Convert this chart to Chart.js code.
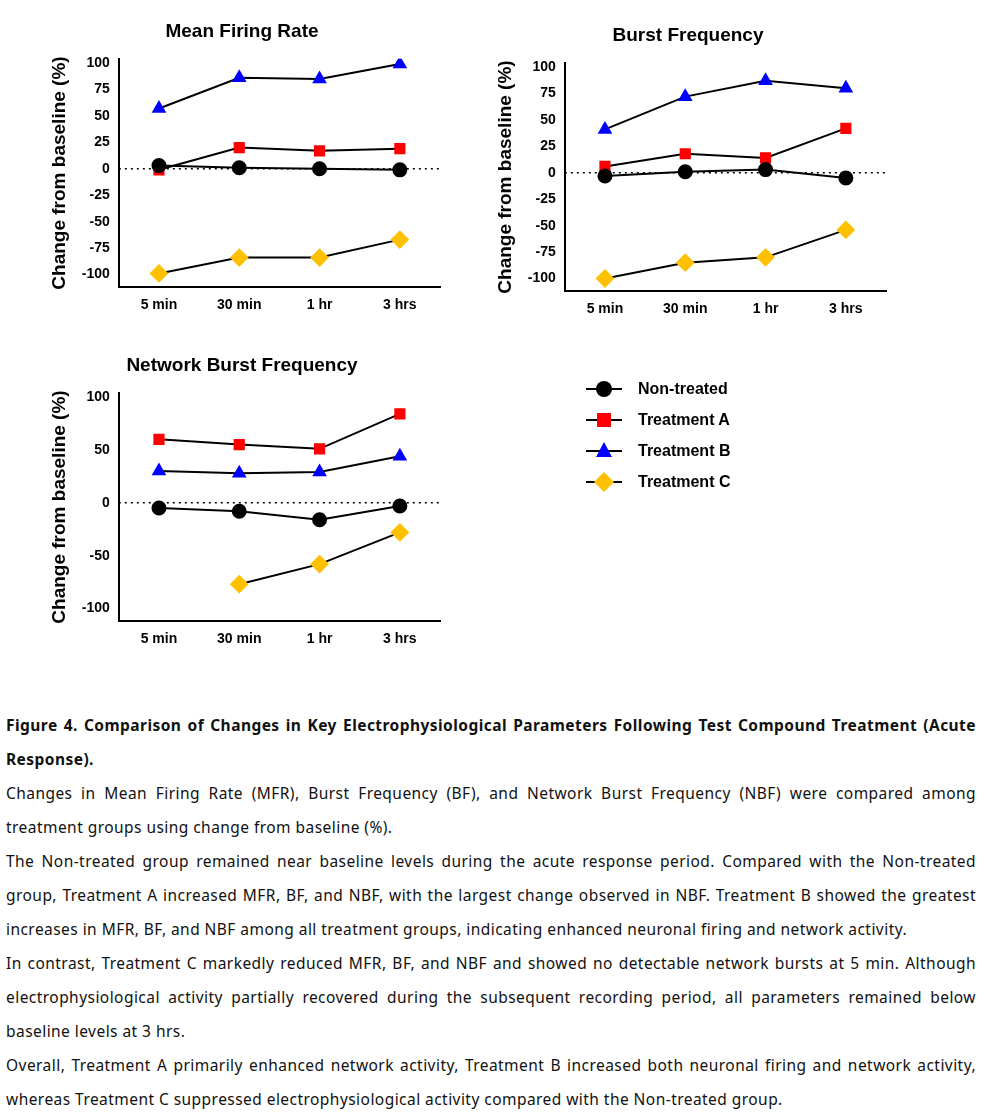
<!DOCTYPE html>
<html><head><meta charset="utf-8">
<script src="https://cdn.jsdelivr.net/npm/chart.js@4"></script>
<style>
body{margin:0;width:992px;height:1117px;background:#fff;position:relative;font-family:"Noto Sans",sans-serif}
.c{position:absolute}
#legend{position:absolute;left:584px;top:373px;font:bold 16px "Liberation Sans",Arial;color:#000}
#legend div{height:31px;display:flex;align-items:center}
#legend canvas{margin-right:14px}
#cap{position:absolute;left:6px;top:708px;width:970px;font-size:15.5px;letter-spacing:0.45px;line-height:34px;color:#111;text-align:justify}
#cap p{margin:0}
</style></head><body>
<div class="c" style="left:40px;top:18px;width:410px;height:300px"><canvas id="c1"></canvas></div>
<div class="c" style="left:486px;top:22px;width:410px;height:300px"><canvas id="c2"></canvas></div>
<div class="c" style="left:40px;top:352px;width:410px;height:300px"><canvas id="c3"></canvas></div>
<div id="legend"></div>
<div id="cap">
<p><b>Figure 4. Comparison of Changes in Key Electrophysiological Parameters Following Test Compound Treatment (Acute Response).</b></p>
<p>Changes in Mean Firing Rate (MFR), Burst Frequency (BF), and Network Burst Frequency (NBF) were compared among treatment groups using change from baseline (%).</p>
<p>The Non-treated group remained near baseline levels during the acute response period. Compared with the Non-treated group, Treatment A increased MFR, BF, and NBF, with the largest change observed in NBF. Treatment B showed the greatest increases in MFR, BF, and NBF among all treatment groups, indicating enhanced neuronal firing and network activity.</p>
<p>In contrast, Treatment C markedly reduced MFR, BF, and NBF and showed no detectable network bursts at 5 min. Although electrophysiological activity partially recovered during the subsequent recording period, all parameters remained below baseline levels at 3 hrs.</p>
<p>Overall, Treatment A primarily enhanced network activity, Treatment B increased both neuronal firing and network activity, whereas Treatment C suppressed electrophysiological activity compared with the Non-treated group.</p>
</div>
<script>
const categories=["5 min","30 min","1 hr","3 hrs"];
const seriesNames=["Non-treated","Treatment A","Treatment B","Treatment C"];
const mfrNT=[3,1,0,-1], mfrA=[-1,20,17,19], mfrB=[57,86,85,99], mfrC=[-99,-84,-84,-67];
const bfNT=[-3,1,3,-5], bfA=[6,18,14,42], bfB=[41,72,87,80], bfC=[-100,-85,-80,-54];
const nbfNT=[-5,-8,-16,-3], nbfA=[60,55,51,84], nbfB=[30,28,29,44], nbfC=[null,-77,-58,-28];
const styles=[{c:'#000',p:'circle'},{c:'#ff0000',p:'rect'},{c:'#0000ff',p:'triangle'},{c:'#ffc000',p:'rectRot'}];
const F='"Liberation Sans",Arial,sans-serif';
const zeroLine={id:'z',beforeDatasetsDraw(ch){const {ctx,chartArea:a,scales:{y}}=ch;const yy=y.getPixelForValue(0);ctx.save();ctx.setLineDash([2,4]);ctx.strokeStyle='#000';ctx.lineWidth=1.5;ctx.beginPath();ctx.moveTo(a.left,yy);ctx.lineTo(a.right,yy);ctx.stroke();ctx.restore();}};
function mk(id,title,data,step){
 new Chart(document.getElementById(id),{type:'line',
 data:{labels:categories,datasets:data.map((d,i)=>({label:seriesNames[i],data:d,borderColor:'#000',borderWidth:2,pointStyle:styles[i].p,pointBackgroundColor:styles[i].c,pointBorderColor:styles[i].c,pointRadius:styles[i].p==='rectRot'?8:6.5,spanGaps:false}))},
 options:{responsive:true,maintainAspectRatio:false,animation:false,
 layout:{padding:{right:10,left:4}},
 plugins:{legend:{display:false},tooltip:{enabled:false},title:{display:true,text:title,color:'#000',font:{family:F,size:19,weight:'bold'},padding:{top:2,bottom:16}}},
 scales:{x:{offset:true,grid:{display:false,drawTicks:true,tickLength:6,tickColor:'#000'},border:{color:'#000',width:2},ticks:{color:'#000',font:{family:F,size:14,weight:'bold'},padding:4}},
 y:{min:-112,max:104,afterBuildTicks(s){const t=[];for(let v=-100;v<=100;v+=step)t.push({value:v});s.ticks=t;},grid:{display:false,drawTicks:true,tickLength:6,tickColor:'#000'},border:{color:'#000',width:2},ticks:{color:'#000',font:{family:F,size:14,weight:'bold'}},
 title:{display:true,text:'Change from baseline (%)',color:'#000',font:{family:F,size:19,weight:'bold'},padding:{bottom:8}}}}},
 plugins:[zeroLine]});
}
mk('c1','Mean Firing Rate',[mfrNT,mfrA,mfrB,mfrC],25);
mk('c2','Burst Frequency',[bfNT,bfA,bfB,bfC],25);
mk('c3','Network Burst Frequency',[nbfNT,nbfA,nbfB,nbfC],50);
const lg=document.getElementById('legend');
styles.forEach((s,i)=>{const row=document.createElement('div');const cv=document.createElement('canvas');cv.width=40;cv.height=24;const x=cv.getContext('2d');x.strokeStyle='#000';x.lineWidth=2;x.beginPath();x.moveTo(2,12);x.lineTo(38,12);x.stroke();x.fillStyle=s.c;x.beginPath();
if(s.p==='circle'){x.arc(20,12,8,0,7);}else if(s.p==='rect'){x.rect(13,5,14,14);}else if(s.p==='triangle'){x.moveTo(20,3);x.lineTo(28,18);x.lineTo(12,18);x.closePath();}else{x.moveTo(20,2);x.lineTo(30,12);x.lineTo(20,22);x.lineTo(10,12);x.closePath();}
x.fill();row.appendChild(cv);row.appendChild(document.createTextNode(seriesNames[i]));lg.appendChild(row);});
</script>
</body></html>
